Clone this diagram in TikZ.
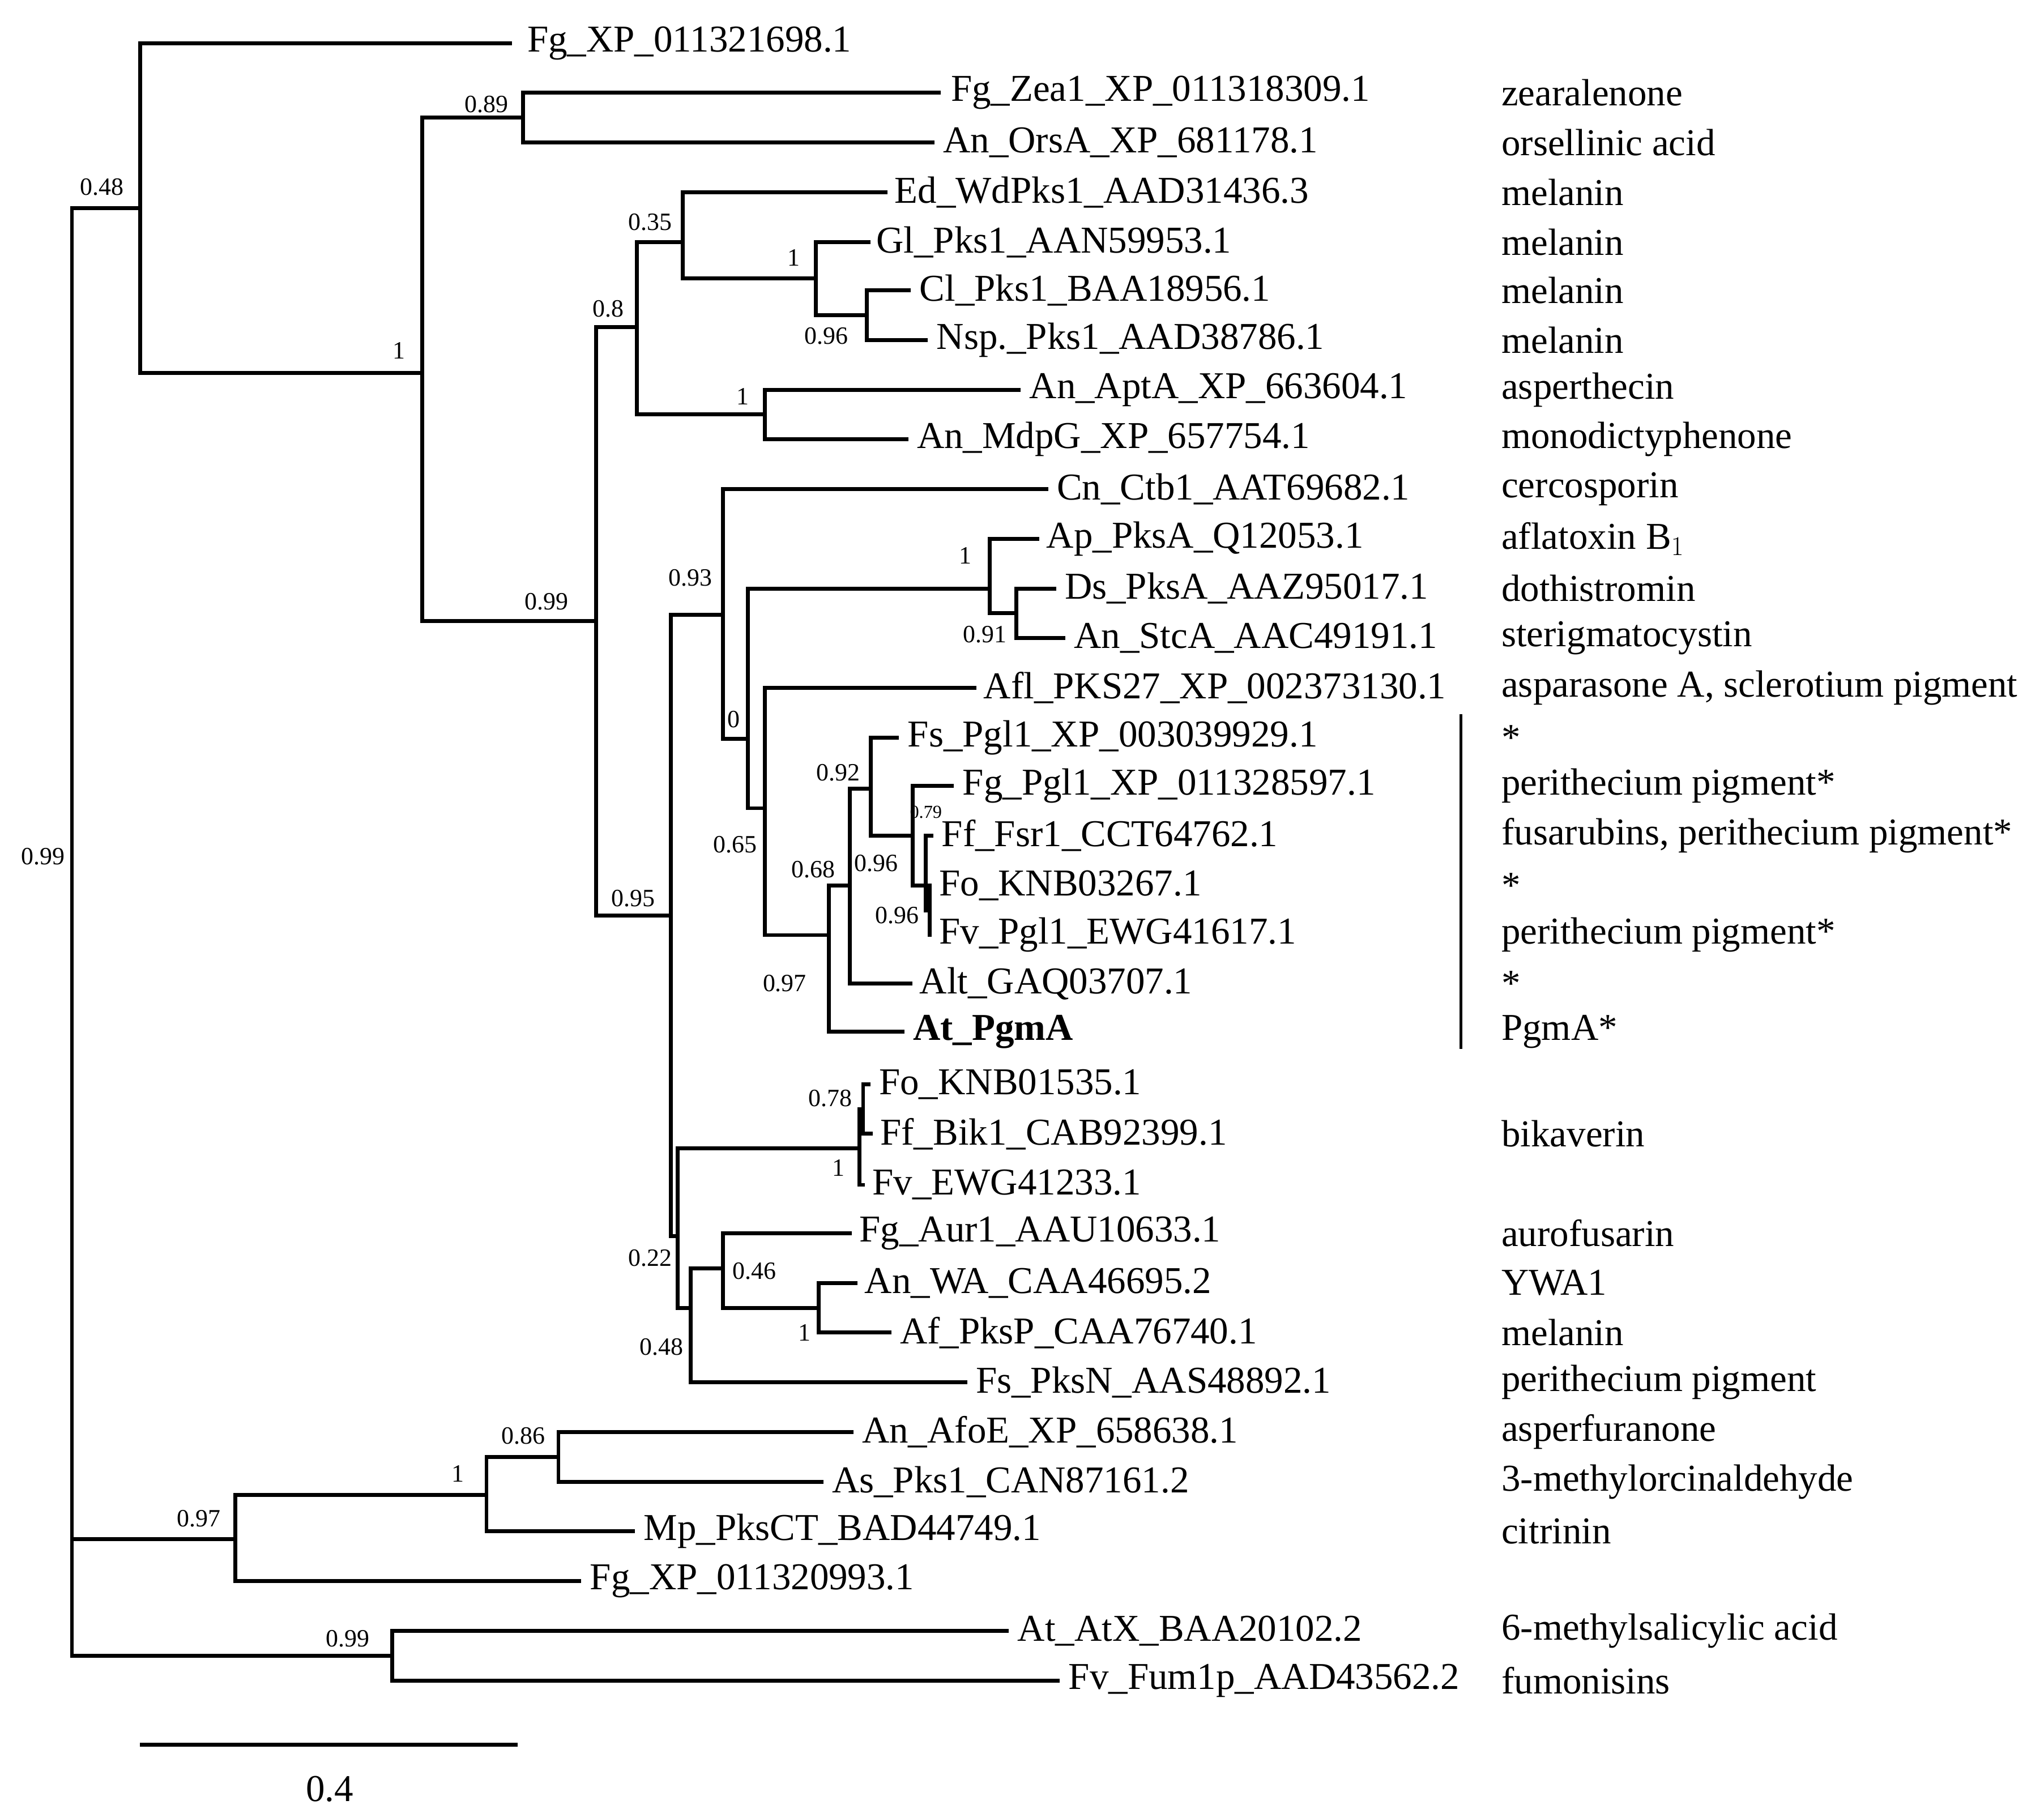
\documentclass[tikz,border=0pt]{standalone}
\usepackage{fontspec}
\setmainfont{Liberation Serif}
\begin{document}
\begin{tikzpicture}[x=1pt,y=-1pt,
 br/.style={line width=3pt,line cap=rect},
 tx/.style={anchor=west,font=\fontsize{29}{31}\selectfont,inner sep=0pt},
 an/.style={anchor=west,font=\fontsize{29}{31}\selectfont,inner sep=0pt},
 bs/.style={font=\fontsize{19}{21}\selectfont,inner sep=0pt}]
\useasboundingbox (0,0) rectangle (1563,1383);
\newcommand\myclade[3]{\draw[br] (#1 |- #2) -- (#1 |- #3);}
\newcommand\myedge[2]{\draw[br] (#1 |- #2) -- (#2);}
% internal nodes
\coordinate (R) at (55,159);
\coordinate (N1) at (107,159);
\coordinate (N2) at (323,285);
\coordinate (N3) at (400,90);
\coordinate (N4) at (456,475);
\coordinate (N5) at (487,250);
\coordinate (N6) at (513,700);
\coordinate (N7) at (522,185);
\coordinate (N8) at (585,317);
\coordinate (N9) at (624,213);
\coordinate (N10) at (663,241);
\coordinate (N11) at (553,470);
\coordinate (N12) at (518,945);
\coordinate (N13) at (572,565);
\coordinate (N14) at (757,450);
\coordinate (N15) at (585,618);
\coordinate (N16) at (777,469);
\coordinate (N17) at (634,715);
\coordinate (N18) at (650,677);
\coordinate (N19) at (666,603);
\coordinate (N20) at (698,639);
\coordinate (N21) at (708,677);
\coordinate (N22) at (711,696);
\coordinate (N23) at (657,878);
\coordinate (N24) at (660,848);
\coordinate (N25) at (528,1000);
\coordinate (N26) at (553,970);
\coordinate (N27) at (626,1000);
\coordinate (N28) at (180,1177);
\coordinate (N29) at (372,1143);
\coordinate (N30) at (427,1114);
\coordinate (N31) at (300,1266);
% leaves
\coordinate (L1) at (390,33);
\coordinate (L2) at (718,71);
\coordinate (L3) at (713,109);
\coordinate (L4) at (677,147);
\coordinate (L5) at (664,185);
\coordinate (L6) at (695,222);
\coordinate (L7) at (708,260);
\coordinate (L8) at (779,298);
\coordinate (L9) at (693,336);
\coordinate (L10) at (800,374);
\coordinate (L11) at (793,412);
\coordinate (L12) at (806,450);
\coordinate (L13) at (813,488);
\coordinate (L14) at (745,526);
\coordinate (L15) at (686,564);
\coordinate (L16) at (728,601);
\coordinate (L17) at (712,639);
\coordinate (L18) at (710,677);
\coordinate (L19) at (711,715);
\coordinate (L20) at (696,752);
\coordinate (L21) at (690,789);
\coordinate (L22) at (664,829);
\coordinate (L23) at (666,867);
\coordinate (L24) at (660,906);
\coordinate (L25) at (650,943);
\coordinate (L26) at (654,981);
\coordinate (L27) at (680,1019);
\coordinate (L28) at (738,1057);
\coordinate (L29) at (651,1095);
\coordinate (L30) at (628,1133);
\coordinate (L31) at (484,1171);
\coordinate (L32) at (443,1209);
\coordinate (L33) at (770,1247);
\coordinate (L34) at (809,1285);
% clades
\myclade{R}{N1}{N31}
\myedge{R}{N1}\myedge{R}{N28}\myedge{R}{N31}
\myclade{N1}{L1}{N2}\myedge{N1}{L1}\myedge{N1}{N2}
\myclade{N2}{N3}{N4}\myedge{N2}{N3}\myedge{N2}{N4}
\myclade{N3}{L2}{L3}\myedge{N3}{L2}\myedge{N3}{L3}
\myclade{N4}{N5}{N6}\myedge{N4}{N5}\myedge{N4}{N6}
\myclade{N5}{N7}{N8}\myedge{N5}{N7}\myedge{N5}{N8}
\myclade{N7}{L4}{N9}\myedge{N7}{L4}\myedge{N7}{N9}
\myclade{N9}{L5}{N10}\myedge{N9}{L5}\myedge{N9}{N10}
\myclade{N10}{L6}{L7}\myedge{N10}{L6}\myedge{N10}{L7}
\myclade{N8}{L8}{L9}\myedge{N8}{L8}\myedge{N8}{L9}
\myclade{N6}{N11}{N12}\myedge{N6}{N11}\myedge{N6}{N12}
\myclade{N11}{L10}{N13}\myedge{N11}{L10}\myedge{N11}{N13}
\myclade{N13}{N14}{N15}\myedge{N13}{N14}\myedge{N13}{N15}
\myclade{N14}{L11}{N16}\myedge{N14}{L11}\myedge{N14}{N16}
\myclade{N16}{L12}{L13}\myedge{N16}{L12}\myedge{N16}{L13}
\myclade{N15}{L14}{N17}\myedge{N15}{L14}\myedge{N15}{N17}
\myclade{N17}{N18}{L21}\myedge{N17}{N18}\myedge{N17}{L21}
\myclade{N18}{N19}{L20}\myedge{N18}{N19}\myedge{N18}{L20}
\myclade{N19}{L15}{N20}\myedge{N19}{L15}\myedge{N19}{N20}
\myclade{N20}{L16}{N21}\myedge{N20}{L16}\myedge{N20}{N21}
\myclade{N21}{L17}{N22}\myedge{N21}{L17}\myedge{N21}{N22}
\myclade{N22}{L18}{L19}\myedge{N22}{L18}\myedge{N22}{L19}
\myclade{N12}{N23}{N25}\myedge{N12}{N23}\myedge{N12}{N25}
\myclade{N23}{N24}{L24}\myedge{N23}{N24}\myedge{N23}{L24}
\myclade{N24}{L22}{L23}\myedge{N24}{L22}\myedge{N24}{L23}
\myclade{N25}{N26}{L28}\myedge{N25}{N26}\myedge{N25}{L28}
\myclade{N26}{L25}{N27}\myedge{N26}{L25}\myedge{N26}{N27}
\myclade{N27}{L26}{L27}\myedge{N27}{L26}\myedge{N27}{L27}
\myclade{N28}{N29}{L32}\myedge{N28}{N29}\myedge{N28}{L32}
\myclade{N29}{N30}{L31}\myedge{N29}{N30}\myedge{N29}{L31}
\myclade{N30}{L29}{L30}\myedge{N30}{L29}\myedge{N30}{L30}
\myclade{N31}{L33}{L34}\myedge{N31}{L33}\myedge{N31}{L34}
% leaf labels
\node[tx] (t1) at ([xshift=13]L1) {Fg\_XP\_011321698.1};
\node[tx] (t2) at ([xshift=9]L2) {Fg\_Zea1\_XP\_011318309.1};
\node[tx] (t3) at ([xshift=8]L3) {An\_OrsA\_XP\_681178.1};
\node[tx] (t4) at ([xshift=7]L4) {Ed\_WdPks1\_AAD31436.3};
\node[tx] (t5) at ([xshift=6]L5) {Gl\_Pks1\_AAN59953.1};
\node[tx] (t6) at ([xshift=8]L6) {Cl\_Pks1\_BAA18956.1};
\node[tx] (t7) at ([xshift=8]L7) {Nsp.\_Pks1\_AAD38786.1};
\node[tx] (t8) at ([xshift=8]L8) {An\_AptA\_XP\_663604.1};
\node[tx] (t9) at ([xshift=8]L9) {An\_MdpG\_XP\_657754.1};
\node[tx] (t10) at ([xshift=8]L10) {Cn\_Ctb1\_AAT69682.1};
\node[tx] (t11) at ([xshift=7]L11) {Ap\_PksA\_Q12053.1};
\node[tx] (t12) at ([xshift=8]L12) {Ds\_PksA\_AAZ95017.1};
\node[tx] (t13) at ([xshift=8]L13) {An\_StcA\_AAC49191.1};
\node[tx] (t14) at ([xshift=7]L14) {Afl\_PKS27\_XP\_002373130.1};
\node[tx] (t15) at ([xshift=8]L15) {Fs\_Pgl1\_XP\_003039929.1};
\node[tx] (t16) at ([xshift=8]L16) {Fg\_Pgl1\_XP\_011328597.1};
\node[tx] (t17) at ([xshift=8]L17) {Ff\_Fsr1\_CCT64762.1};
\node[tx] (t18) at ([xshift=8]L18) {Fo\_KNB03267.1};
\node[tx] (t19) at ([xshift=7]L19) {Fv\_Pgl1\_EWG41617.1};
\node[tx] (t20) at ([xshift=7]L20) {Alt\_GAQ03707.1};
\node[tx,font=\fontsize{29}{31}\selectfont\bfseries] (t21) at ([xshift=8]L21) {At\_PgmA};
\node[tx] (t22) at ([xshift=8]L22) {Fo\_KNB01535.1};
\node[tx] (t23) at ([xshift=7]L23) {Ff\_Bik1\_CAB92399.1};
\node[tx] (t24) at ([xshift=7]L24) {Fv\_EWG41233.1};
\node[tx] (t25) at ([xshift=7]L25) {Fg\_Aur1\_AAU10633.1};
\node[tx] (t26) at ([xshift=7]L26) {An\_WA\_CAA46695.2};
\node[tx] (t27) at ([xshift=8]L27) {Af\_PksP\_CAA76740.1};
\node[tx] (t28) at ([xshift=8]L28) {Fs\_PksN\_AAS48892.1};
\node[tx] (t29) at ([xshift=8]L29) {An\_AfoE\_XP\_658638.1};
\node[tx] (t30) at ([xshift=8]L30) {As\_Pks1\_CAN87161.2};
\node[tx] (t31) at ([xshift=8]L31) {Mp\_PksCT\_BAD44749.1};
\node[tx] (t32) at ([xshift=8]L32) {Fg\_XP\_011320993.1};
\node[tx] (t33) at ([xshift=8]L33) {At\_AtX\_BAA20102.2};
\node[tx] (t34) at ([xshift=8]L34) {Fv\_Fum1p\_AAD43562.2};
% annotations
\node[an] (a2) at (1148,71) {zearalenone};
\node[an] (a3) at (1148,109) {orsellinic acid};
\node[an] (a4) at (1148,147) {melanin};
\node[an] (a5) at (1148,185) {melanin};
\node[an] (a6) at (1148,222) {melanin};
\node[an] (a7) at (1148,260) {melanin};
\node[an] (a8) at (1148,298) {asperthecin};
\node[an] (a9) at (1148,336) {monodictyphenone};
\node[an] (a10) at (1148,374) {cercosporin};
\node[an] (a11) at (1148,412) {aflatoxin B$_1$};
\node[an] (a12) at (1148,450) {dothistromin};
\node[an] (a13) at (1148,488) {sterigmatocystin};
\node[an] (a14) at (1148,526) {asparasone A, sclerotium pigment};
\node[an] (a15) at (1148,564) {*};
\node[an] (a16) at (1148,601) {perithecium pigment*};
\node[an] (a17) at (1148,639) {fusarubins, perithecium pigment*};
\node[an] (a18) at (1148,677) {*};
\node[an] (a19) at (1148,715) {perithecium pigment*};
\node[an] (a20) at (1148,752) {*};
\node[an] (a21) at (1148,789) {PgmA*};
\node[an] (a23) at (1148,867) {bikaverin};
\node[an] (a25) at (1148,943) {aurofusarin};
\node[an] (a26) at (1148,981) {YWA1};
\node[an] (a27) at (1148,1019) {melanin};
\node[an] (a28) at (1148,1057) {perithecium pigment};
\node[an] (a29) at (1148,1095) {asperfuranone};
\node[an] (a30) at (1148,1133) {3-methylorcinaldehyde};
\node[an] (a31) at (1148,1171) {citrinin};
\node[an] (a33) at (1148,1247) {6-methylsalicylic acid};
\node[an] (a34) at (1148,1285) {fumonisins};
\coordinate (bt) at (1117,546);
\coordinate (bb) at (1117,802);
\draw[line width=2pt] (bt) -- (bb);
% support values
\node[bs] at (78,143) {0.48};
\node[bs] at (33,655) {0.99};
\node[bs] at (305,268) {1};
\node[bs] at (372,80) {0.89};
\node[bs] at (418,460) {0.99};
\node[bs] at (465,236) {0.8};
\node[bs] at (484,687) {0.95};
\node[bs] at (497,170) {0.35};
\node[bs] at (568,303) {1};
\node[bs] at (607,197) {1};
\node[bs] at (632,257) {0.96};
\node[bs] at (528,442) {0.93};
\node[bs] at (497,962) {0.22};
\node[bs] at (561,550) {0};
\node[bs] at (738,425) {1};
\node[bs] at (753,485) {0.91};
\node[bs] at (562,646) {0.65};
\node[bs] at (600,752) {0.97};
\node[bs] at (622,665) {0.68};
\node[bs] at (641,591) {0.92};
\node[bs] at (670,660) {0.96};
\node[bs,font=\fontsize{14}{16}\selectfont] at (708,621) {0.79};
\node[bs] at (686,700) {0.96};
\node[bs] at (635,840) {0.78};
\node[bs] at (641,893) {1};
\node[bs] at (506,1030) {0.48};
\node[bs] at (577,972) {0.46};
\node[bs] at (615,1019) {1};
\node[bs] at (152,1161) {0.97};
\node[bs] at (350,1127) {1};
\node[bs] at (400,1098) {0.86};
\node[bs] at (266,1253) {0.99};
% scale bar
\coordinate (s1) at (107,1334);
\coordinate (s2) at (396,1334);
\draw[line width=3pt] (s1) -- (s2);
\node[tx,anchor=center] (sl) at (252,1368) {0.4};
\end{tikzpicture}
\end{document}
